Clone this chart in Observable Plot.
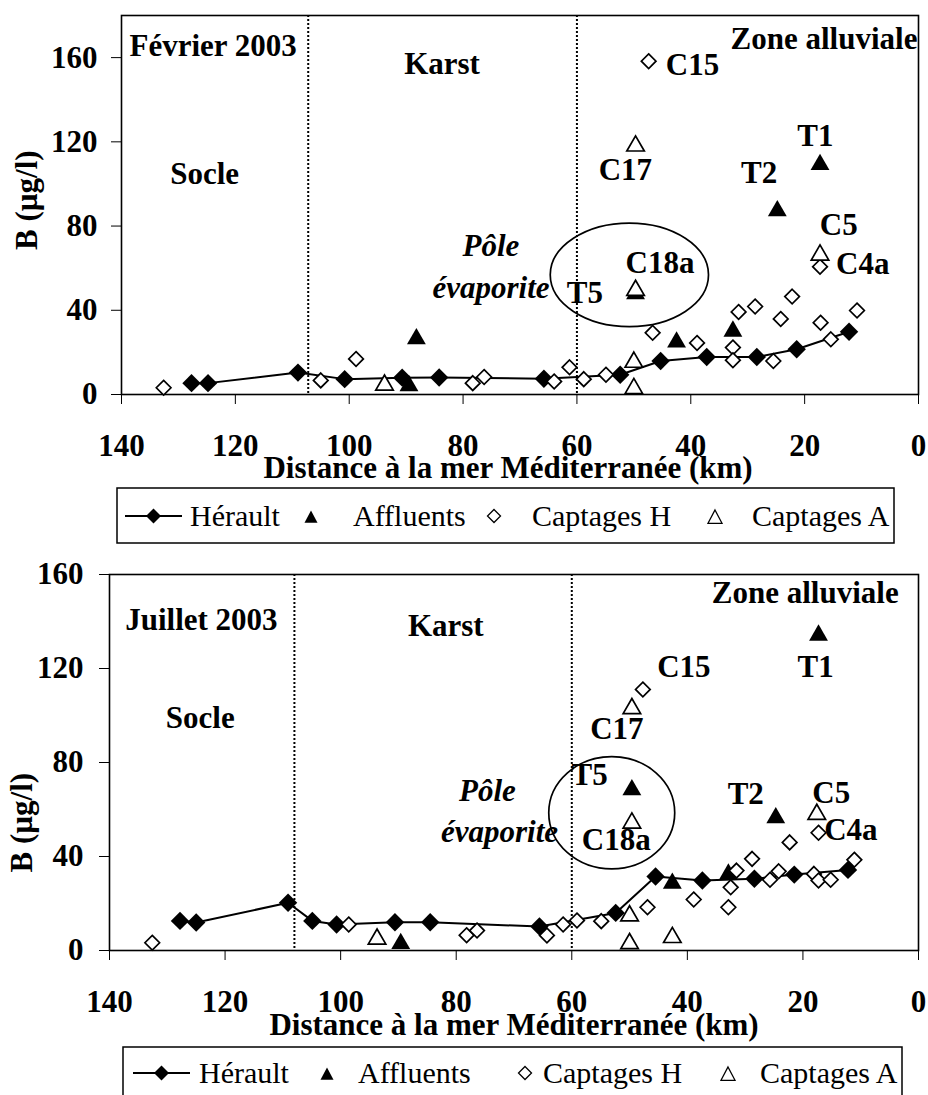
<!DOCTYPE html>
<html><head><meta charset="utf-8">
<script src="https://cdn.jsdelivr.net/npm/d3@7"></script>
<script src="https://cdn.jsdelivr.net/npm/@observablehq/plot@0.6"></script>
<style>
body{margin:0;background:#fff;}
#page{position:relative;width:928px;height:1095px;overflow:hidden;background:#fff;}
#page > svg{position:absolute;left:0;overflow:visible;}
</style></head><body><div id="page"></div>
<script>
// ---------- axis ticks ----------
const xTicks = [140, 120, 100, 80, 60, 40, 20, 0];
const bTicks = [0, 40, 80, 120, 160];
const seriesNames = ["Hérault", "Affluents", "Captages H", "Captages A"];

// ---------- Février 2003 : [distance à la mer (km), B (µg/l)] ----------
const febHerault = [[127.7,5.4],[124.8,5.4],[109,10.4],[100.8,7.3],[90.7,8],[84.2,8.1],[65.8,7.5],[52.4,9.4],[45.3,15.9],[37.2,17.8],[28.4,17.8],[21.4,21.5],[12.2,29.8]];
const febAffluents = [[88.2,27.4],[89.5,5.1],[49.7,48.8],[42.5,25.8],[32.6,31],[24.8,88.2],[17.3,110.1]];
const febCaptagesH = [[132.6,3.2],[105,6.7],[98.8,16.9],[78.3,5.4],[76.3,8.3],[64,6.2],[61.3,12.9],[58.8,7.3],[54.9,9.4],[47.4,158.3],[46.7,29.3],[38.9,24.5],[32.6,22.3],[32.6,16.3],[31.6,39.2],[28.7,41.8],[25.5,15.9],[24.2,35.9],[22.2,46.5],[17.3,60.7],[17.2,34.1],[15.4,26.2],[10.8,39.9]];
const febCaptagesA = [[93.8,5.4],[49.7,119],[49.7,50.4],[50,16.3],[50,3.8],[17.3,67.2]];

// ---------- Juillet 2003 ----------
const julHerault = [[127.8,12.6],[125,11.9],[109.1,20.3],[104.9,12.6],[100.7,11.1],[90.6,12],[84.5,12],[65.6,10.2],[52.4,16],[45.5,31.5],[37.4,29.8],[28.4,30.5],[21.5,32.3],[12.2,34.3]];
const julAffluents = [[89.6,3.8],[49.6,69.2],[42.6,29.4],[32.9,33.3],[24.7,57.3],[17.3,135]];
const julCaptagesH = [[132.6,3.3],[98.6,11.1],[78.2,6.5],[76.4,8.5],[64.3,6.4],[61.5,11.1],[59.1,12.8],[54.9,12.5],[47.7,111.1],[46.9,18.4],[38.9,21.7],[32.9,18.4],[32.5,26.9],[31.5,34],[28.8,39],[25.7,30.1],[24.2,33.7],[22.3,46],[17.3,50.1],[18.1,32.6],[17.3,29.8],[15.2,30.1],[11.1,38.6]];
const julCaptagesA = [[93.7,5.7],[49.6,103.8],[49.6,55.1],[50,15.6],[50,3.8],[42.6,6.4],[17.6,58.8]];

// ---------- zone limits (km) ----------
const febZones = [107.2, 60];
const julZones = [108, 60];

// ---------- annotations (data units) ----------
const febNotes = [
  {t:"Février 2003", km:123.9, b:165.7}, {t:"Socle", km:125.4, b:104.5},
  {t:"Karst", km:83.7, b:157.1}, {t:"Zone alluviale", km:16.6, b:169},
  {t:"C15", km:39.7, b:156.3}, {t:"C17", km:51.5, b:106.5}, {t:"T1", km:18.1, b:122.8},
  {t:"T2", km:28, b:105}, {t:"C5", km:14, b:80.6}, {t:"C4a", km:9.8, b:62},
  {t:"C18a", km:45.4, b:62.5}, {t:"T5", km:58.6, b:48}
];
const febItalic = [{t:"Pôle", km:75.1, b:70.6}, {t:"évaporite", km:75.1, b:50.5}];
const febPole = {km:50.7, b:56.6, rkm:13.9, rb:24.6};

const julNotes = [
  {t:"Juillet 2003", km:124.1, b:140.4}, {t:"Socle", km:124.3, b:98.7},
  {t:"Karst", km:81.8, b:138}, {t:"Zone alluviale", km:19.6, b:152.3},
  {t:"C15", km:40.6, b:120.4}, {t:"T1", km:17.8, b:120.4}, {t:"C17", km:52.2, b:94.3},
  {t:"T5", km:56.9, b:74.5}, {t:"C18a", km:52.3, b:47}, {t:"T2", km:29.9, b:66.5},
  {t:"C5", km:15.1, b:67.2}, {t:"C4a", km:11.7, b:51.3}
];
const julItalic = [{t:"Pôle", km:74.6, b:68}, {t:"évaporite", km:72.5, b:50.6}];
const julPole = {km:53, b:58.4, rkm:10.9, rb:23.9};

const FONT = "'Liberation Serif','Times New Roman',Times,serif";
const rows = arr => arr.map(([km, b]) => ({km, b}));

function chart(cfg) {
  const H = rows(cfg.herault), A = rows(cfg.affluents), CH = rows(cfg.captH), CA = rows(cfg.captA);
  const plot = Plot.plot({
    width: 928, height: cfg.height,
    marginLeft: cfg.ml, marginRight: 10, marginTop: cfg.mt, marginBottom: cfg.mb,
    style: {fontFamily: FONT, fontSize: "31px", fontWeight: "bold", color: "black", background: "transparent", overflow: "visible"},
    x: {domain: [140, 0], ticks: xTicks, tickSize: 10, tickPadding: 29, label: null},
    y: {domain: [0, cfg.ymax], ticks: bTicks, tickSize: 10, tickPadding: cfg.yPad, label: null},
    marks: [
      Plot.ruleX(cfg.zones, {stroke: "black", strokeWidth: 2, strokeDasharray: "2,2"}),
      Plot.frame({stroke: "black", strokeWidth: 1.6}),
      Plot.line(H, {x: "km", y: "b", stroke: "black", strokeWidth: 2}),
      Plot.dot(H, {x: "km", y: "b", symbol: "diamond2", r: 8.3, fill: "black", stroke: "none"}),
      Plot.dot(A, {x: "km", y: "b", symbol: "triangle", r: 7, fill: "black", stroke: "none", dy: 2}),
      Plot.dot(CH, {x: "km", y: "b", symbol: "diamond2", r: 6.6, fill: "white", stroke: "black", strokeWidth: 1.7}),
      Plot.dot(CA, {x: "km", y: "b", symbol: "triangle", r: 6.5, fill: "white", stroke: "black", strokeWidth: 1.7, dy: 2}),
      Plot.text(cfg.notes, {x: "km", y: "b", text: "t", fontSize: 31, fontWeight: "bold", fill: "black"}),
      Plot.text(cfg.italic, {x: "km", y: "b", text: "t", fontSize: 31, fontWeight: "bold", fontStyle: "italic", fill: "black"}),
      Plot.text(["B (µg/l)"], {text: d => d, frameAnchor: "left", lineAnchor: "middle", rotate: -90, dx: cfg.ydx, dy: cfg.ydy, fontSize: 31, fontWeight: "bold"}),
      Plot.text(["Distance à la mer Méditerranée (km)"], {text: d => d, frameAnchor: "bottom", lineAnchor: "middle", dx: cfg.xdx, dy: cfg.xdy, fontSize: 31, fontWeight: "bold"})
    ]
  });
  // ellipse around the "pôle évaporite", positioned with the plot's scales
  const sx = plot.scale("x"), sy = plot.scale("y"), e = cfg.pole;
  const cx = sx.apply(e.km), cy = sy.apply(e.b);
  const el = document.createElementNS("http://www.w3.org/2000/svg", "ellipse");
  el.setAttribute("cx", cx); el.setAttribute("cy", cy);
  el.setAttribute("rx", Math.abs(sx.apply(e.km + e.rkm) - cx));
  el.setAttribute("ry", Math.abs(sy.apply(e.b + e.rb) - cy));
  el.setAttribute("fill", "none"); el.setAttribute("stroke", "black"); el.setAttribute("stroke-width", "1.7");
  plot.appendChild(el);
  plot.style.top = cfg.top + "px";
  return plot;
}

function legend(L) {
  const ns = "http://www.w3.org/2000/svg";
  const svg = document.createElementNS(ns, "svg");
  svg.setAttribute("width", 928); svg.setAttribute("height", L.h + 4);
  svg.style.top = L.top + "px";
  const y = L.midY, h = L.h;
  const d = (cx, cy, r) => `M${cx},${cy-r}L${cx+r},${cy}L${cx},${cy+r}L${cx-r},${cy}Z`;
  const t = (cx, cy, w) => `M${cx},${cy-w*0.5}L${cx+w/2},${cy+w*0.45}L${cx-w/2},${cy+w*0.45}Z`;
  svg.innerHTML = `
    <rect x="${L.left}" y="1" width="${L.width}" height="${h}" fill="white" stroke="black" stroke-width="1.5"/>
    <line x1="${L.x[0]}" x2="${L.x[0]+57}" y1="${y}" y2="${y}" stroke="black" stroke-width="2"/>
    <path d="${d(L.x[0]+28.5, y, 7.5)}" fill="black"/>
    <path d="${t(L.x[2], y+1, 13)}" fill="black"/>
    <path d="${d(L.x[4], y, 6.5)}" fill="white" stroke="black" stroke-width="1.3"/>
    <path d="${t(L.x[6], y+1, 14)}" fill="white" stroke="black" stroke-width="1.3"/>
    <g font-family="${FONT.replace(/'/g, "&quot;")}" font-size="30" fill="black">
      <text x="${L.x[1]}" y="${L.base}">${seriesNames[0]}</text>
      <text x="${L.x[3]}" y="${L.base}">${seriesNames[1]}</text>
      <text x="${L.x[5]}" y="${L.base}">${seriesNames[2]}</text>
      <text x="${L.x[7]}" y="${L.base}">${seriesNames[3]}</text>
    </g>`;
  return svg;
}

const page = document.getElementById("page");
page.appendChild(chart({
  top: 0, height: 486, mt: 15, mb: 92, ml: 121, ymax: 180, yPad: 14,
  herault: febHerault, affluents: febAffluents, captH: febCaptagesH, captA: febCaptagesA,
  zones: febZones, notes: febNotes, italic: febItalic, pole: febPole,
  ydx: -94, ydy: 45, xdx: -12, xdy: 74
}));
page.appendChild(legend({top: 487, left: 117, width: 777, h: 55, midY: 29, base: 39,
  x: [125, 190, 311, 353, 494, 532, 715, 752]}));
page.appendChild(chart({
  top: 560, height: 486, mt: 14, mb: 96, ml: 109, ymax: 160, yPad: 16,
  herault: julHerault, affluents: julAffluents, captH: julCaptagesH, captA: julCaptagesA,
  zones: julZones, notes: julNotes, italic: julItalic, pole: julPole,
  ydx: -87, ydy: 110, xdx: 0, xdy: 75
}));
page.appendChild(legend({top: 1046, left: 123, width: 779, h: 52, midY: 27, base: 37,
  x: [133, 199, 327, 358, 525, 543, 728, 760]}));
</script></body></html>
